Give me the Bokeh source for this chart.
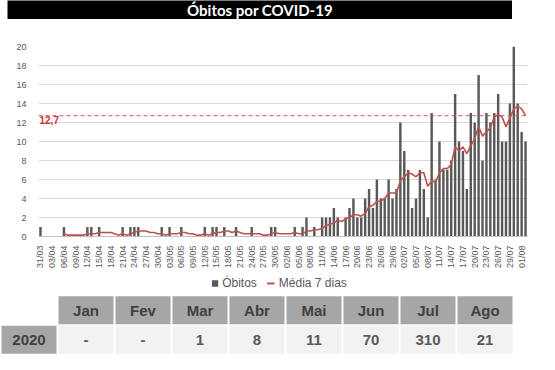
import numpy as np
import pandas as pd
from bokeh.plotting import figure
from bokeh.models import (FixedTicker, Span, Label, Legend, LegendItem,
                          ColumnDataSource, FactorRange)
from bokeh.layouts import column
from bokeh.embed import file_html
from bokeh.resources import INLINE
from bokeh.core.properties import value

# ---------------- data ----------------
title_text = "Óbitos por COVID-19"
start_date = "2020-03-31"
deaths_mar = [1]
deaths_apr = [0, 0, 0, 0, 0, 1, 0, 0, 0, 0, 0, 1, 1, 0, 1, 0, 0, 0, 0, 0,
              1, 0, 1, 1, 1, 0, 0, 0, 0, 0]
deaths_may = [1, 0, 1, 0, 0, 1, 0, 0, 0, 0, 0, 1, 0, 1, 1, 0, 1, 0, 0, 1,
              0, 0, 0, 1, 0, 0, 0, 0, 1, 1, 0]
deaths_jun = [0, 0, 0, 1, 0, 1, 2, 0, 1, 0, 2, 2, 2, 3, 2, 0, 2, 3, 4, 2,
              2, 4, 5, 3, 6, 4, 4, 6, 4, 5]
deaths_jul = [12, 9, 7, 3, 4, 7, 5, 2, 13, 6, 10, 7, 7, 8, 15, 10, 9, 5, 13, 12,
              17, 8, 13, 12, 13, 15, 10, 10, 14, 20, 14]
deaths_aug = [11, 10]
months = ["Jan", "Fev", "Mar", "Abr", "Mai", "Jun", "Jul", "Ago"]
month_totals = ["-", "-", "1", "8", "11", "70", "310", "21"]
year_label = "2020"
legend_bar = "Óbitos"
legend_line = "Média 7 dias"

deaths = deaths_mar + deaths_apr + deaths_may + deaths_jun + deaths_jul + deaths_aug
n = len(deaths)
days = list(range(n))
date_labels = list(pd.date_range(start_date, periods=n).strftime("%d/%m"))
avg7 = pd.Series(deaths, dtype=float).rolling(7).mean()
last_avg = float(avg7.iloc[-1])

FONT = "Liberation Sans"
GREY = "#595959"
RED = "#c0504d"

# ---------------- title ----------------
t = figure(width=512, height=19, x_range=(0, 1), y_range=(0, 1),
           output_backend="svg", toolbar_location=None,
           x_axis_location=None, y_axis_location=None,
           background_fill_color="black", border_fill_color="white",
           min_border=0, min_border_left=7, outline_line_color=None,
           frame_align=False)
t.grid.visible = False
t.add_layout(Label(x=0.5, y=0.5, text=title_text, text_align="center",
                   text_baseline="middle", text_color="white",
                   text_font="Lato", text_font_style="bold",
                   text_font_size="15px"))

# ---------------- chart ----------------
p = figure(width=539, height=252, x_range=(-0.5, n - 0.5), y_range=(0, 20),
           output_backend="svg", toolbar_location=None,
           min_border_left=38, min_border_right=12, min_border_top=27,
           min_border_bottom=30, outline_line_color=None, frame_align=False)

src = ColumnDataSource(dict(day=days, deaths=deaths, avg=avg7.tolist()))
bars = p.vbar(x="day", top="deaths", width=0.62, source=src,
              fill_color=GREY, line_color=None)
line = p.line(x="day", y="avg", source=src, line_color=RED, line_width=1.6)

p.add_layout(Span(location=last_avg, dimension="width", line_color="#d9534f",
                  line_dash="4 3", line_width=1))
p.add_layout(Label(x=-0.5, y=last_avg, x_offset=1,
                   text=f"{last_avg:.1f}".replace(".", ","),
                   text_baseline="top", text_color="#d03030",
                   text_font=FONT, text_font_style="bold",
                   text_font_size="10px"))

ticks = list(range(0, n, 3))
p.xaxis.ticker = FixedTicker(ticks=ticks)
p.xaxis.major_label_overrides = {i: date_labels[i] for i in ticks}
p.xaxis.major_label_orientation = np.pi / 2
p.xaxis.axis_line_color = "#bfbfbf"
p.xaxis.major_tick_line_color = None
p.xaxis.minor_tick_line_color = None
p.xaxis.major_label_text_font_size = "9px"
p.xaxis.major_label_text_color = GREY
p.xaxis.major_label_text_font = FONT
p.xaxis.major_label_standoff = 3

p.yaxis.ticker = FixedTicker(ticks=list(range(0, 21, 2)))
p.yaxis.axis_line_color = None
p.yaxis.major_tick_line_color = None
p.yaxis.minor_tick_line_color = None
p.yaxis.major_label_text_font_size = "9px"
p.yaxis.major_label_text_color = GREY
p.yaxis.major_label_text_font = FONT
p.yaxis.major_label_standoff = 6

p.xgrid.visible = False
p.ygrid.grid_line_color = "#d9d9d9"
p.ygrid.grid_line_width = 1

# ---------------- legend strip (same series, drawn out of view) ----------------
lg = figure(width=539, height=24, x_range=(-0.5, n - 0.5), y_range=(100, 101),
            output_backend="svg", toolbar_location=None,
            x_axis_location=None, y_axis_location=None,
            min_border=0, min_border_left=30, min_border_right=12,
            outline_line_color=None, frame_align=False)
lg.grid.visible = False
lb = lg.vbar(x="day", top="deaths", width=0.6, source=src,
             fill_color=GREY, line_color=None)
ll = lg.line(x="day", y="avg", source=src, line_color=RED, line_width=2)
legend = Legend(items=[LegendItem(label=legend_bar, renderers=[lb]),
                       LegendItem(label=legend_line, renderers=[ll])],
                orientation="horizontal", location="center",
                border_line_color=None, background_fill_alpha=0,
                label_text_font_size="12px", label_text_color=GREY,
                label_text_font=FONT, glyph_width=8, glyph_height=8,
                label_standoff=4, spacing=10, padding=0, margin=0,
                label_height=12)
lg.add_layout(legend)

# ---------------- table ----------------
cols = [" "] + months
tb = figure(width=513, height=59,
            x_range=FactorRange(factors=cols, range_padding=0, factor_padding=0),
            y_range=(0, 2), output_backend="svg", toolbar_location=None,
            x_axis_location=None, y_axis_location=None,
            min_border=0, outline_line_color=None, frame_align=False)
tb.grid.visible = False

tb.rect(x=months, y=[1.5] * len(months), width=0.965, height=0.95,
        fill_color="#a6a6a6", line_color=None)
tb.rect(x=months, y=[0.5] * len(months), width=0.965, height=0.95,
        fill_color="#f2f2f2", line_color=None)
tb.rect(x=[" "], y=[0.5], width=0.965, height=0.95,
        fill_color="#a6a6a6", line_color=None)

tb.text(x=months, y=[1.5] * len(months), text=months, text_align="center",
        text_baseline="middle", text_color="#404040",
        text_font=value(FONT), text_font_style="bold", text_font_size="15px")
tb.text(x=months, y=[0.5] * len(months), text=month_totals, text_align="center",
        text_baseline="middle", text_color=GREY,
        text_font=value(FONT), text_font_style="bold", text_font_size="15px")
tb.text(x=[" "], y=[0.5], text=[year_label], text_align="center",
        text_baseline="middle", text_color="#404040",
        text_font=value(FONT), text_font_style="bold", text_font_size="15px")

layout = column(t, p, lg, tb, spacing=0)
open("out.html", "w").write(file_html(layout, INLINE))
